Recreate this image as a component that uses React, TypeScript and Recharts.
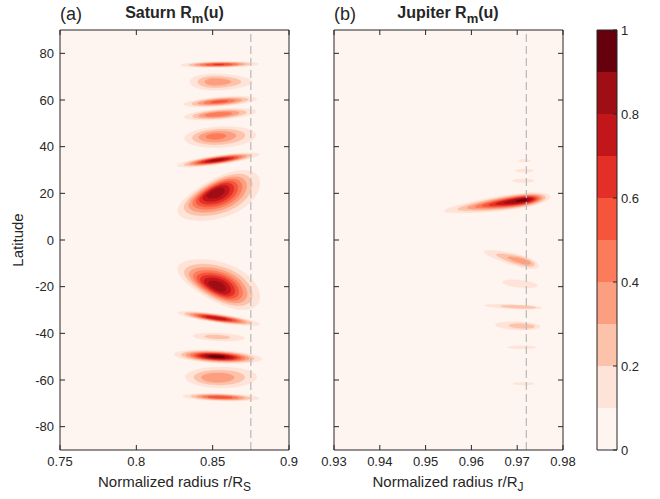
import { ScatterChart, Scatter, XAxis, YAxis, CartesianGrid, ReferenceLine, ReferenceArea, BarChart, Bar } from 'recharts';

const FONT = '"Liberation Sans", Arial, sans-serif';
const INK = '#262626';

// contour levels 0..1 step 0.1 and their fill colours
const levelSteps = [0, 0.1, 0.2, 0.3, 0.4, 0.5, 0.6, 0.7, 0.8, 0.9];
const COLORS = ['#FFF5F0', '#FEE4D8', '#FCC2AA', '#FC9F81', '#FB7B5B', '#F6553C', '#E32F27', '#C3161B', '#9F0E14', '#67000D'];

const saturnTicks = [0.75, 0.8, 0.85, 0.9];
const jupiterTicks = [0.93, 0.94, 0.95, 0.96, 0.97, 0.98];
const latTicks = [-80, -60, -40, -20, 0, 20, 40, 60, 80];
const cbTicks = [0, 0.2, 0.4, 0.6, 0.8, 1];

// Saturn blobs: centre (r, lat), spread [r left, r right, lat up, lat down],
// lat drift per 0.01 r, peak value, peak shift (r, lat), taper
const saturnCenter: [number, number][] = [
  [0.854, 75.2], [0.855, 67.8], [0.855, 59.3], [0.855, 53.9], [0.855, 44.3], [0.8537, 34.3], [0.854, 18.5],
  [0.854, -18.5], [0.854, -33.6], [0.854, -41.6], [0.8535, -50], [0.8555, -58.6], [0.8555, -67.4],
];
const saturnSpread: [number, number, number, number][] = [
  [0.025, 0.026, 1.3, 1.3], [0.02, 0.021, 3.4, 3.6], [0.024, 0.024, 2.0, 2.0], [0.0235, 0.0235, 2.3, 2.3],
  [0.0235, 0.0235, 4.3, 4.7], [0.027, 0.027, 2.0, 2.0], [0.027, 0.027, 8.8, 9.3],
  [0.027, 0.027, 9.3, 8.8], [0.027, 0.027, 1.9, 1.9], [0.017, 0.017, 1.7, 1.7], [0.0287, 0.0287, 2.8, 2.8],
  [0.0235, 0.0235, 4.2, 4.8], [0.025, 0.025, 1.6, 1.6],
];
const saturnShear = [0.1, 0, 0.5, 0.5, 0.3, 0.9, 2.2, -2.2, -0.9, -0.3, -0.35, 0, -0.2];
const saturnPeak = [0.62, 0.38, 0.55, 0.5, 0.45, 0.85, 0.88, 0.88, 0.8, 0.25, 0.97, 0.4, 0.6];
const saturnShift: [number, number][] = [
  [0, 0], [-0.003, 0], [-0.001, 0], [-0.002, 0], [-0.004, 0.3], [-0.001, 0], [-0.0025, 2.45],
  [-0.0014, -1.81], [-0.002, 0], [-0.002, 0], [-0.001, 0], [-0.004, -0.5], [-0.001, 0],
];
const saturnTaper = [0, -0.2, 0, 0, 0, 0, 0.2, 0.2, 0, 0, 0, 0, 0];

const jupiterCenter: [number, number][] = [
  [0.9658, 15.5], [0.9716, 34], [0.9716, 29.7], [0.9713, 25.4], [0.9692, -8.3],
  [0.9706, -18.8], [0.9694, -28.6], [0.9702, -36.8], [0.971, -46], [0.9714, -61.6],
];
const jupiterSpread: [number, number, number, number][] = [
  [0.0118, 0.0114, 3.2, 3.2], [0.0013, 0.0013, 0.6, 0.6], [0.002, 0.002, 0.7, 0.7], [0.0024, 0.0024, 0.8, 0.8],
  [0.0065, 0.0055, 2.6, 2.6], [0.0038, 0.0038, 1.6, 1.6], [0.0065, 0.006, 1.0, 1.0], [0.005, 0.0048, 1.8, 1.8],
  [0.0031, 0.0031, 0.7, 0.7], [0.0023, 0.0023, 0.6, 0.6],
];
const jupiterShear = [2.6, 0, 0, 0, -5, -2, -0.8, -0.8, 0, 0];
const jupiterPeak = [0.92, 0.12, 0.13, 0.14, 0.38, 0.18, 0.3, 0.28, 0.15, 0.12];
const jupiterShift: [number, number][] = [
  [0.0057, 0.1], [0, 0], [0, 0], [0, 0], [0.0025, 0.3], [0.001, 0], [0.0025, 0], [0.002, 0], [0, 0], [0, 0],
];
const jupiterTaper = [0.3, 0, 0, 0, 0.2, 0, 0, 0, 0, 0];

interface Blob {
  r: number; lat: number; wL: number; wR: number; hT: number; hB: number;
  shear: number; peak: number; dr: number; dlat: number; taper: number;
}

function buildBlobs(center: [number, number][], spread: number[][], shear: number[], peak: number[], shift: [number, number][], taper: number[]): Blob[] {
  return center.map((c, i) => ({
    r: c[0], lat: c[1], wL: spread[i][0], wR: spread[i][1], hT: spread[i][2], hB: spread[i][3],
    shear: shear[i], peak: peak[i], dr: shift[i][0], dlat: shift[i][1], taper: taper[i],
  }));
}

const saturnBlobs = buildBlobs(saturnCenter, saturnSpread, saturnShear, saturnPeak, saturnShift, saturnTaper);
const jupiterBlobs = buildBlobs(jupiterCenter, jupiterSpread, jupiterShear, jupiterPeak, jupiterShift, jupiterTaper);

const PLOT_TOP = 30;
const PLOT_H = 420;
const PLOT_W = 229;
const LAT_DOMAIN: [number, number] = [-90, 90];

// nested filled contours of one blob, sized with the axis scale factors
function makeBlobShape(pxPerR: number, pxPerLat: number) {
  return (props: any) => {
    const { cx, cy, payload } = props;
    const b = payload as Blob;
    const paths = [];
    const denom = Math.log(b.peak / 0.1);
    for (let k = 1; k < levelSteps.length; k++) {
      const L = levelSteps[k];
      if (L >= b.peak) break;
      const s = Math.sqrt(Math.log(b.peak / L) / denom);
      const ox = (1 - s) * b.dr;
      const oy = (1 - s) * b.dlat;
      let d = '';
      const N = 90;
      for (let j = 0; j <= N; j++) {
        const t = (j / N) * 2 * Math.PI;
        const c = Math.cos(t);
        const sn = Math.sin(t);
        const u = c * (c < 0 ? b.wL : b.wR) * s;
        const v = sn * (sn > 0 ? b.hT : b.hB) * s * (1 + b.taper * c);
        const dr = ox + u;
        const dl = oy + v + b.shear * (dr / 0.01);
        const px = cx + dr * pxPerR;
        const py = cy - dl * pxPerLat;
        d += (j === 0 ? 'M' : 'L') + px.toFixed(2) + ',' + py.toFixed(2);
      }
      paths.push(<path key={k} d={d + 'Z'} fill={COLORS[k]} stroke={COLORS[k]} strokeWidth={0.3} />);
    }
    return <g>{paths}</g>;
  };
}

const XTick = (props: any) => {
  const { x, y, payload } = props;
  const base = y - 7;
  return (
    <g>
      <line x1={x} x2={x} y1={base} y2={base - 5} stroke={INK} />
      <line x1={x} x2={x} y1={base - PLOT_H} y2={base - PLOT_H + 5} stroke={INK} />
      <text x={x} y={y} dy="0.71em" textAnchor="middle" fontSize={13} fontFamily={FONT} fill={INK}>{payload.value}</text>
    </g>
  );
};

const makeYTick = (showLabel: boolean) => (props: any) => {
  const { x, y, payload } = props;
  const base = x + 6;
  return (
    <g>
      <line x1={base} x2={base + 5} y1={y} y2={y} stroke={INK} />
      <line x1={base + PLOT_W} x2={base + PLOT_W - 5} y1={y} y2={y} stroke={INK} />
      {showLabel && (
        <text x={x} y={y} dy="0.35em" textAnchor="end" fontSize={13} fontFamily={FONT} fill={INK}>{payload.value}</text>
      )}
    </g>
  );
};

const CbTick = (props: any) => {
  const { x, y, payload } = props;
  const base = x - 4;
  return (
    <g>
      <line x1={base} x2={base - 4} y1={y} y2={y} stroke={INK} />
      <text x={x} y={y} dy="0.35em" textAnchor="start" fontSize={13} fontFamily={FONT} fill={INK}>{payload.value}</text>
    </g>
  );
};

interface PanelProps {
  blobs: Blob[];
  domain: [number, number];
  ticks: number[];
  dashAt: number;
  showYLabels: boolean;
  width: number;
  yWidth: number;
}

function Panel({ blobs, domain, ticks, dashAt, showYLabels, width, yWidth }: PanelProps) {
  const pxPerR = PLOT_W / (domain[1] - domain[0]);
  const pxPerLat = PLOT_H / (LAT_DOMAIN[1] - LAT_DOMAIN[0]);
  return (
    <ScatterChart width={width} height={499} margin={{ top: PLOT_TOP, right: width - yWidth - PLOT_W, bottom: 0, left: 0 }}>
      <CartesianGrid horizontal={false} vertical={false} fill={COLORS[0]} fillOpacity={1} />
      <XAxis type="number" dataKey="r" domain={domain} ticks={ticks} allowDataOverflow height={49}
        tickSize={0} tickMargin={7} axisLine={false} tick={<XTick />} interval={0} />
      <YAxis type="number" dataKey="lat" domain={LAT_DOMAIN} ticks={latTicks} allowDataOverflow width={yWidth}
        tickSize={0} tickMargin={6} axisLine={false} tick={makeYTick(showYLabels)} interval={0} />
      <Scatter data={blobs} shape={makeBlobShape(pxPerR, pxPerLat)} isAnimationActive={false} />
      <ReferenceLine x={dashAt} stroke="#bcbcbc" strokeWidth={1.3} strokeDasharray="8 4" zIndex={700} />
      <ReferenceArea x1={domain[0]} x2={domain[1]} y1={LAT_DOMAIN[0]} y2={LAT_DOMAIN[1]}
        fill="none" fillOpacity={0} stroke={INK} strokeWidth={1} zIndex={800} />
    </ScatterChart>
  );
}

const colorbarRow = [levelSteps.reduce((acc: Record<string, any>, _l, i) => { acc['l' + i] = 0.1; return acc; }, { name: 'cb' })];

function Colorbar() {
  return (
    <BarChart width={80} height={499} data={colorbarRow} barCategoryGap={0}
      margin={{ top: PLOT_TOP, right: 0, bottom: 49, left: 17 }}>
      <XAxis dataKey="name" type="category" hide />
      <YAxis orientation="right" type="number" domain={[0, 1]} ticks={cbTicks} width={43} allowDataOverflow
        tickSize={0} tickMargin={4} axisLine={false} tick={<CbTick />} interval={0} />
      {levelSteps.map((_l, i) => (
        <Bar key={i} dataKey={'l' + i} stackId="cb" fill={COLORS[i]} isAnimationActive={false} />
      ))}
      <ReferenceArea y1={0} y2={1} fill="none" fillOpacity={0} stroke={INK} strokeWidth={1} zIndex={800} />
    </BarChart>
  );
}

export default function App() {
  return (
    <div style={{ position: 'absolute', left: 0, top: 0, width: 660, height: 499, background: '#fff', fontFamily: FONT }}>
      <div style={{ position: 'absolute', left: 0, top: 0 }}>
        <Panel blobs={saturnBlobs} domain={[0.75, 0.9]} ticks={saturnTicks} dashAt={0.875} showYLabels width={300} yWidth={60} />
      </div>
      <div style={{ position: 'absolute', left: 300, top: 0 }}>
        <Panel blobs={jupiterBlobs} domain={[0.93, 0.98]} ticks={jupiterTicks} dashAt={0.972} showYLabels={false} width={285} yWidth={34} />
      </div>
      <div style={{ position: 'absolute', left: 580, top: 0 }}>
        <Colorbar />
      </div>
      <svg width={660} height={499} style={{ position: 'absolute', left: 0, top: 0, pointerEvents: 'none' }}>
        <g fontFamily={FONT} fill={INK}>
          <text x={60} y={20} fontSize={18}>(a)</text>
          <text x={174.5} y={18} fontSize={16} fontWeight="bold" textAnchor="middle">
            Saturn R<tspan fontSize={13} dy={5}>m</tspan><tspan dy={-5}>(u)</tspan>
          </text>
          <text x={334} y={20} fontSize={18}>(b)</text>
          <text x={448} y={18} fontSize={16} fontWeight="bold" textAnchor="middle">
            Jupiter R<tspan fontSize={13} dy={5}>m</tspan><tspan dy={-5}>(u)</tspan>
          </text>
          <text x={174.5} y={487} fontSize={15} textAnchor="middle">
            Normalized radius r/R<tspan fontSize={12} dy={4}>S</tspan>
          </text>
          <text x={448} y={487} fontSize={15} textAnchor="middle">
            Normalized radius r/R<tspan fontSize={12} dy={4}>J</tspan>
          </text>
          <text x={0} y={0} fontSize={15} textAnchor="middle" transform="translate(23,240) rotate(-90)">Latitude</text>
        </g>
      </svg>
    </div>
  );
}
